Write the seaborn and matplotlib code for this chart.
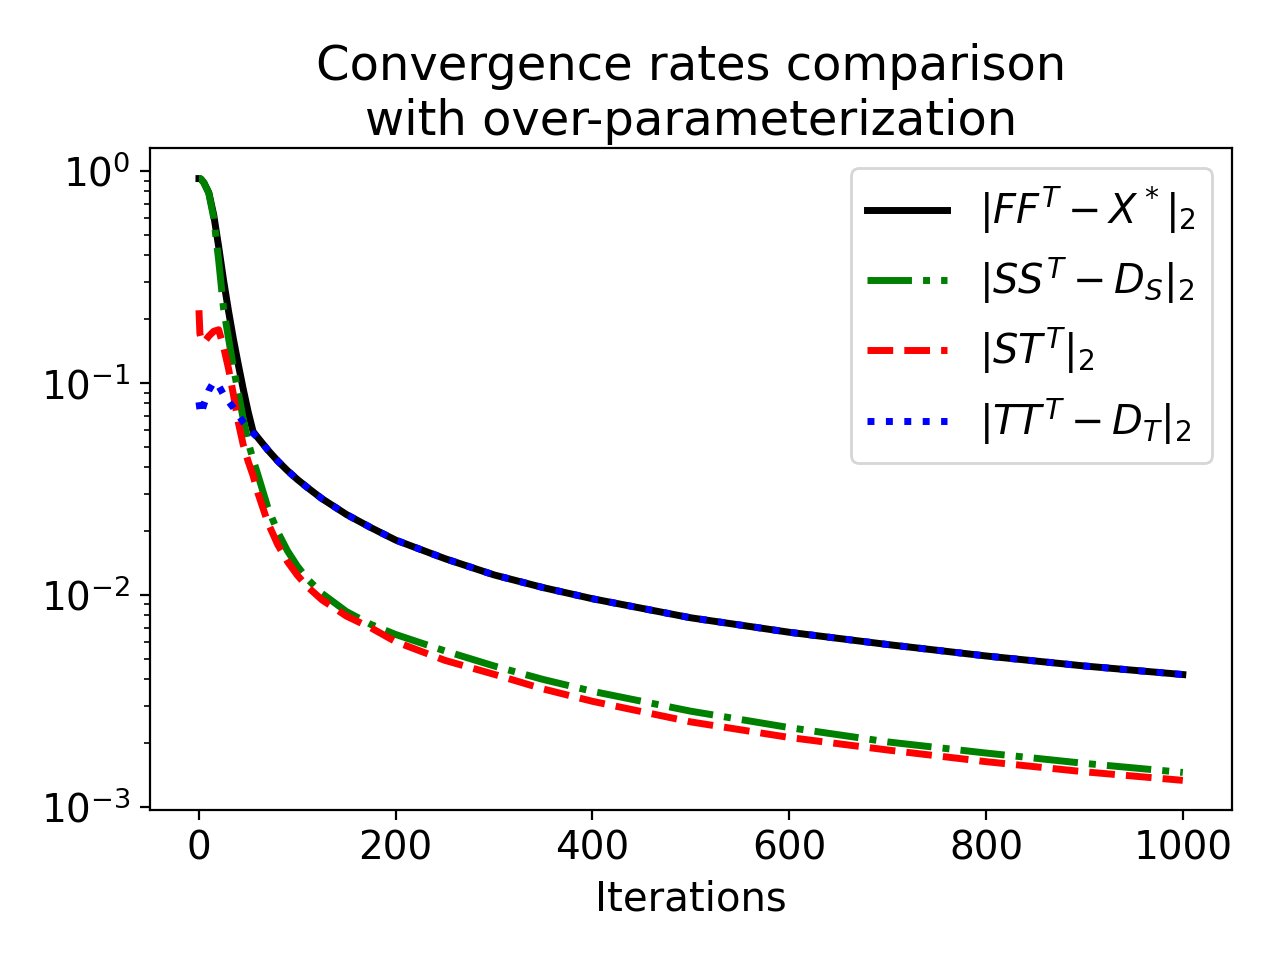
import numpy as np
import pandas as pd
import seaborn as sns
import matplotlib
matplotlib.use("Agg")
import matplotlib.pyplot as plt

# values
iters = [0, 1, 2, 5, 10, 15, 20, 25, 30, 35, 40, 45, 50, 55, 60, 70, 80, 90, 100,
         110, 125, 150, 175, 200, 250, 300, 350, 400, 500, 600, 700, 800, 900, 1000]

err_F = [0.92, 0.92, 0.915, 0.88, 0.79, 0.62, 0.44, 0.305, 0.219, 0.161, 0.122,
         0.0935, 0.073, 0.0589, 0.055, 0.0482, 0.0428, 0.0385, 0.035,
         0.0321, 0.0284, 0.0239, 0.0207, 0.0181, 0.0148, 0.0124, 0.0108, 0.00957,
         0.00778, 0.00665, 0.00582, 0.00514, 0.00461, 0.0042]

err_S = [0.92, 0.92, 0.915, 0.88, 0.785, 0.60, 0.38, 0.224, 0.163, 0.118, 0.0897,
         0.0676, 0.0525, 0.0435, 0.0367, 0.0258, 0.0198, 0.0161, 0.01365,
         0.0119, 0.01014, 0.00832, 0.00723, 0.00649, 0.00543, 0.00461, 0.00398, 0.0035,
         0.00282, 0.00236, 0.00202, 0.00179, 0.0016, 0.00145]

err_ST = [0.22, 0.17, 0.163, 0.155, 0.166, 0.175, 0.178, 0.148, 0.117, 0.088, 0.065,
          0.051, 0.0426, 0.0365, 0.0301, 0.0219, 0.01726, 0.01432, 0.01236,
          0.01094, 0.00946, 0.00792, 0.00697, 0.006, 0.0049, 0.00421, 0.00359, 0.00314,
          0.00251, 0.00212, 0.00185, 0.00163, 0.00146, 0.00133]

err_T = [0.081, 0.075, 0.071, 0.079, 0.092, 0.101, 0.097, 0.088, 0.0818, 0.0763, 0.0706,
         0.0652, 0.061, 0.0578, 0.055, 0.0482, 0.0428, 0.0385, 0.035,
         0.0321, 0.0284, 0.0239, 0.0207, 0.0181, 0.0148, 0.0124, 0.0108, 0.00957,
         0.00778, 0.00665, 0.00582, 0.00514, 0.00461, 0.0042]

labels = [r'$|FF^T - X^*|_2$', r'$|SS^T - D_S|_2$', r'$|ST^T|_2$', r'$|TT^T - D_T|_2$']
colors = ['black', 'green', 'red', 'blue']
styles = ['-', '-.', '--', ':']

fig, ax = plt.subplots(figsize=(6.4, 4.79), dpi=200)

for vals, lab, c, ls in zip([err_F, err_S, err_ST, err_T], labels, colors, styles):
    sns.lineplot(x=iters, y=vals, color=c, linestyle=ls, linewidth=2.5, label=lab, ax=ax)

ax.set_yscale('log')
ax.set_xlabel('Iterations', fontsize=14.5)
ax.set_title('Convergence rates comparison\nwith over-parameterization', fontsize=17.3, pad=5)
ax.tick_params(labelsize=14)
ax.legend(fontsize=14.4, loc='upper right')

plt.subplots_adjust(left=0.117, right=0.9625, top=0.845, bottom=0.154)
plt.savefig('out.png', dpi=200)
